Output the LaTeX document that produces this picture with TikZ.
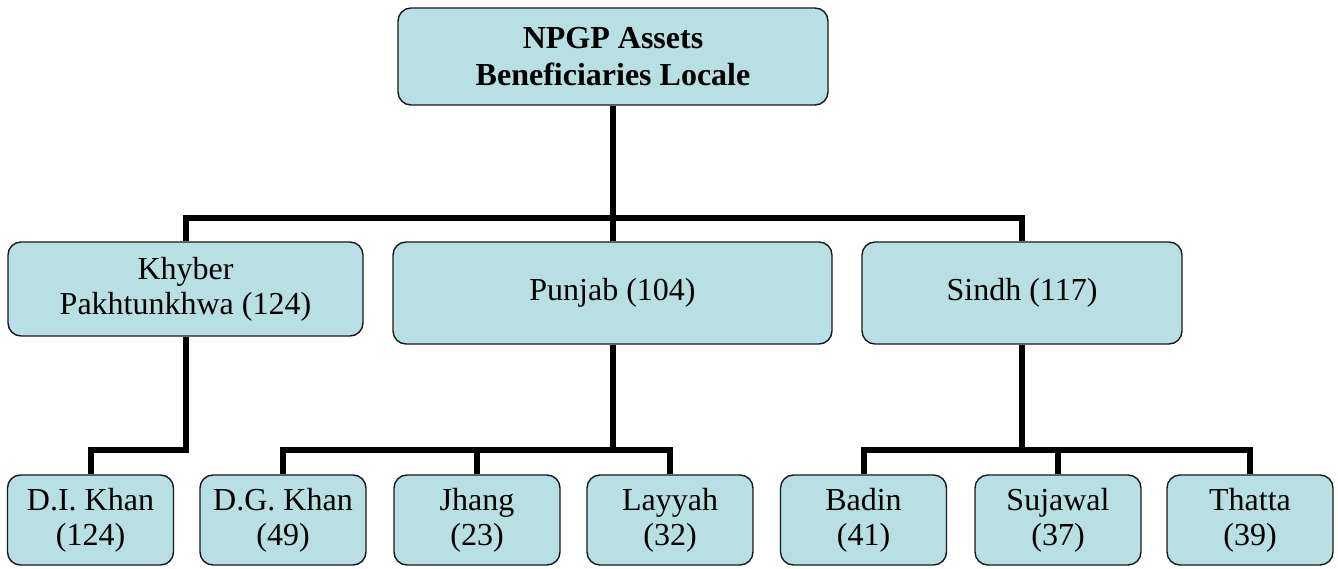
\documentclass[tikz,border=0pt]{standalone}
\usepackage{fontspec}
\setmainfont{Liberation Serif}
\newfontfamily\tnr{Liberation Serif}
\definecolor{boxfill}{RGB}{184,223,227}
\begin{document}
\begin{tikzpicture}[x=1pt,y=-1pt,
  box/.style={draw=black!90, line width=1.4pt, fill=boxfill, rounded corners=13pt,
    inner sep=0pt, align=center, font=\tnr\fontsize{32}{35}\selectfont},
  conn/.style={line width=6pt, draw=black}]
\useasboundingbox (0,0) rectangle (1338,569);
% nodes
\node[box, minimum width=430pt, minimum height=97pt, font=\tnr\fontsize{32}{37}\selectfont\bfseries] (top) at (613,56.5) {NPGP Assets\\Beneficiaries Locale};
\node[box, minimum width=355pt, minimum height=94pt] (kp) at (185.5,289) {Khyber\\Pakhtunkhwa (124)};
\node[box, minimum width=439pt, minimum height=102pt] (pj) at (612.5,293) {Punjab (104)};
\node[box, minimum width=320pt, minimum height=102pt] (sd) at (1022,293) {Sindh (117)};
\node[box, minimum width=166pt, minimum height=90pt] (dik) at (90.5,520) {D.I. Khan\\(124)};
\node[box, minimum width=166pt, minimum height=90pt] (dgk) at (283,520) {D.G. Khan\\(49)};
\node[box, minimum width=166pt, minimum height=90pt] (jh) at (477,520) {Jhang\\(23)};
\node[box, minimum width=166pt, minimum height=90pt] (ly) at (670,520) {Layyah\\(32)};
\node[box, minimum width=166pt, minimum height=90pt] (bd) at (863.5,520) {Badin\\(41)};
\node[box, minimum width=166pt, minimum height=90pt] (sj) at (1058,520) {Sujawal\\(37)};
\node[box, minimum width=166pt, minimum height=90pt] (th) at (1250,520) {Thatta\\(39)};
% bus coordinates
\coordinate (bus1) at (613,218);
\coordinate (bus2) at (185.5,450);
\coordinate (bus3) at (612.5,450);
\coordinate (bus4) at (1022,450);
% connectors
\draw[conn] (top.south) -- (bus1);
\draw[conn] (kp.north) |- (bus1) -| (sd.north);
\draw[conn] (pj.north) -- (pj.north |- bus1);
\draw[conn] (kp.south) -- (bus2) -| (dik.north);
\draw[conn] (pj.south) -- (bus3);
\draw[conn] (dgk.north) |- (bus3) -| (ly.north);
\draw[conn] (jh.north) -- (jh.north |- bus3);
\draw[conn] (sd.south) -- (bus4);
\draw[conn] (bd.north) |- (bus4) -| (th.north);
\draw[conn] (sj.north) -- (sj.north |- bus4);
\end{tikzpicture}
\end{document}
